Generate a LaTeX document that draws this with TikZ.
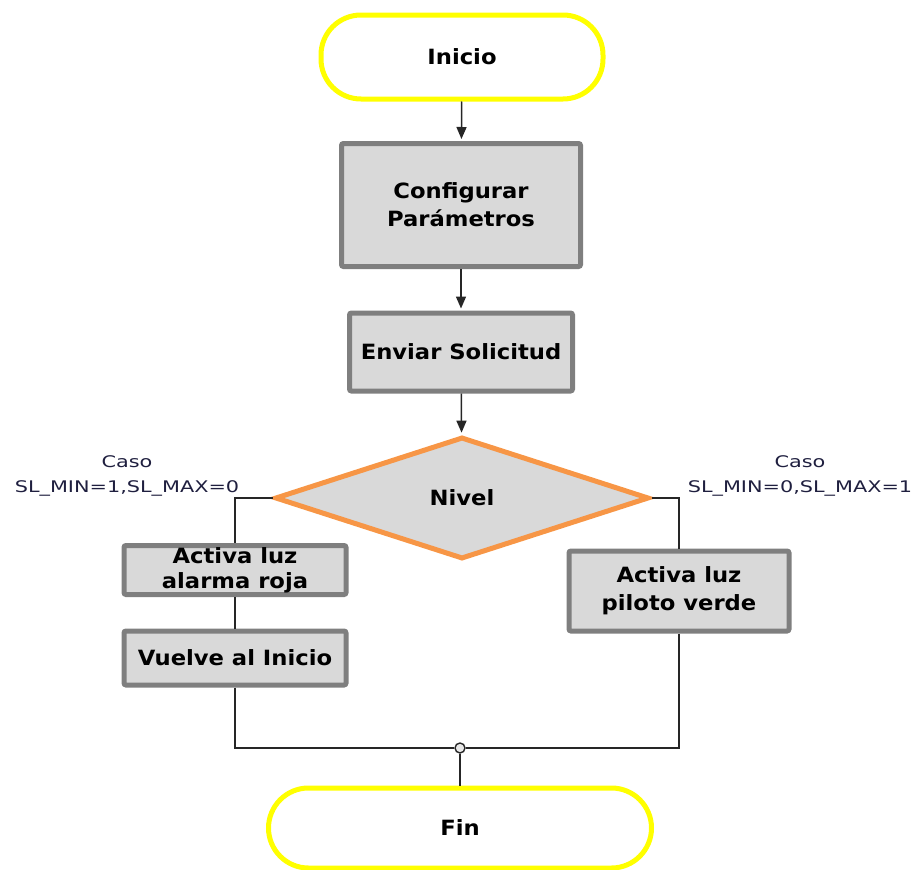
\documentclass[tikz,border=0pt]{standalone}
\usepackage{fontspec}
\setmainfont{DejaVu Sans}
\newfontfamily\boxfont[FakeStretch=1.08]{DejaVu Sans}
\newfontfamily\casefont[FakeStretch=1.3]{DejaVu Sans}
\usetikzlibrary{shapes.geometric,arrows.meta}
\definecolor{boxfill}{HTML}{D9D9D9}
\definecolor{boxedge}{HTML}{7F7F7F}
\definecolor{termedge}{HTML}{FFFF00}
\definecolor{decedge}{HTML}{F79646}
\definecolor{wire}{HTML}{262626}
\definecolor{casetext}{HTML}{1F1F3F}
\begin{document}
\begin{tikzpicture}[x=1pt,y=-1pt,
  every node/.style={font=\boxfont\bfseries\fontsize{21}{28}\selectfont, align=center, inner sep=0pt},
  terminal/.style={draw=termedge, line width=5pt, fill=white, rounded corners=40pt},
  process/.style={draw=boxedge, line width=5pt, fill=boxfill, rounded corners=2pt},
  decision/.style={diamond, draw=decedge, line width=5pt, fill=boxfill},
  caselabel/.style={font=\casefont\fontsize{16}{25}\selectfont, text=casetext, align=center},
  wireline/.style={draw=wire, line width=1.5pt},
  flow/.style={wireline, -{Triangle[length=12pt,width=10pt]}, shorten >=2pt}
]
\useasboundingbox (0,0) rectangle (916,870);

% terminals
\node[terminal, minimum width=282pt, minimum height=84pt] (start) at (462,57) {Inicio};
\node[terminal, minimum width=383pt, minimum height=80pt] (stop) at (460,828) {Fin};

% main column
\node[process, minimum width=239pt, minimum height=123pt] (config) at (461,205) {Configurar\\Parámetros};
\node[process, minimum width=223pt, minimum height=78pt] (send) at (461,352) {Enviar Solicitud};
\node[decision, minimum width=374pt, minimum height=122pt] (level) at (462,498) {Nivel};

% branches
\node[process, minimum width=222pt, minimum height=49pt] (alarm) at (235,570) {Activa luz\\[-3pt]alarma roja};
\node[process, minimum width=222pt, minimum height=54pt] (back) at (235,658) {Vuelve al Inicio};
\node[process, minimum width=220pt, minimum height=80pt] (pilot) at (679,591) {Activa luz\\piloto verde};

% case labels
\node[caselabel] (caseL) at (127,476) {Caso\\SL\_MIN=1,SL\_MAX=0};
\node[caselabel] (caseR) at (800,476) {Caso\\SL\_MIN=0,SL\_MAX=1};

% merge point
\node[circle, draw=wire, line width=1.4pt, fill=boxfill!60!white, minimum size=10pt] (merge) at (460,748) {};

% connectors
\draw[flow] (start) -- (config);
\draw[flow] (config) -- (send);
\draw[flow] (send) -- (level);
\draw[wireline] (level.west) -| (alarm.north);
\draw[wireline] (alarm) -- (back);
\draw[wireline] (level.east) -| (pilot.north);
\draw[wireline] (back.south) |- (merge.west);
\draw[wireline] (pilot.south) |- (merge.east);
\draw[wireline] (merge) -- (stop);
\end{tikzpicture}
\end{document}
